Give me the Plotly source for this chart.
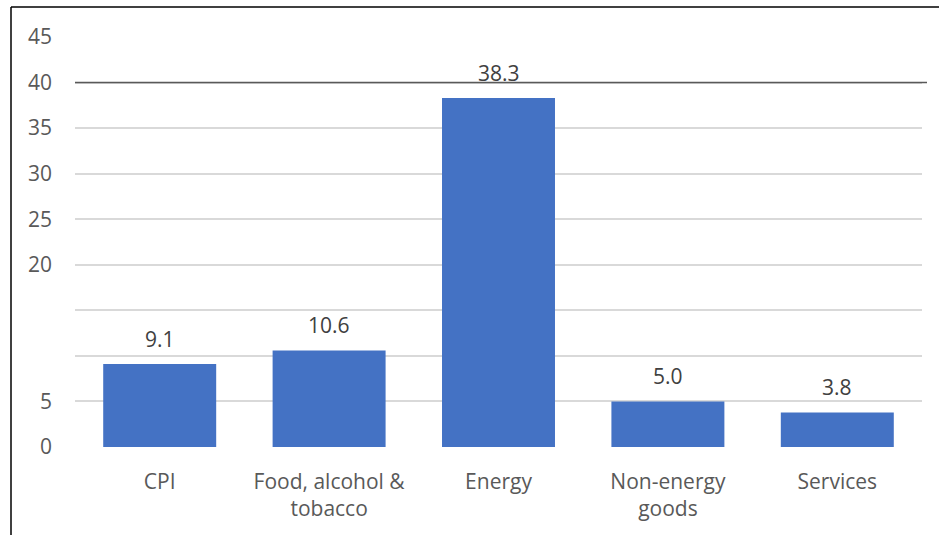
import plotly.graph_objects as go

categories = ["CPI", "Food, alcohol &<br>tobacco", "Energy", "Non-energy<br>goods", "Services"]
values = [9.1, 10.6, 38.3, 5.0, 3.8]
y_tickvals = [0, 5, 10, 15, 20, 25, 30, 35, 40, 45]
y_ticktext = ["0", "5", "", "", "20", "25", "30", "35", "40", "45"]

FONT = "Open Sans"
FS = 21
W, H = 939, 535
L, R, T, B = 75, 17, 37, 88
pw, ph = W - L - R, H - T - B

fig = go.Figure()
fig.add_trace(go.Bar(
    x=categories, y=values, marker=dict(color="#4472C4", line=dict(width=0)),
    width=0.667, hoverinfo="skip",
))

for c, v in zip(categories, values):
    fig.add_annotation(x=c, y=v, text=f"{v:.1f}", showarrow=False, yanchor="bottom",
                       yshift=9, font=dict(family=FONT, size=FS, color="#404040"))

shapes = [
    dict(type="line", xref="paper", yref="y", x0=0, x1=(927 - L) / pw, y0=40, y1=40,
         line=dict(color="#595959", width=1.5), layer="above"),
    dict(type="line", xref="paper", yref="paper", x0=(11 - L) / pw, x1=(11 - L) / pw,
         y0=(H - B - 7) / ph, y1=-(B + 5) / ph, line=dict(color="black", width=1.5)),
    dict(type="line", xref="paper", yref="paper", x0=(11 - L) / pw, x1=(W + 5 - L) / pw,
         y0=(H - B - 7) / ph, y1=(H - B - 7) / ph, line=dict(color="black", width=1.5)),
]

fig.update_layout(
    width=W, height=H, margin=dict(l=L, r=R, t=T, b=B),
    paper_bgcolor="white", plot_bgcolor="white", showlegend=False,
    bargap=0.333, shapes=shapes,
    font=dict(family=FONT, size=FS, color="#595959"),
    xaxis=dict(showgrid=False, showline=False, ticks="", zeroline=False,
               tickfont=dict(family=FONT, size=FS, color="#595959"),
               ticklabelstandoff=20),
    yaxis=dict(range=[0, 45], tickvals=y_tickvals, ticktext=y_ticktext,
               showgrid=True, gridcolor="#d9d9d9", gridwidth=1.5, zeroline=False,
               showline=False, ticks="", ticklabelstandoff=22,
               tickfont=dict(family=FONT, size=FS, color="#595959")),
)

fig.write_html("out.html")
